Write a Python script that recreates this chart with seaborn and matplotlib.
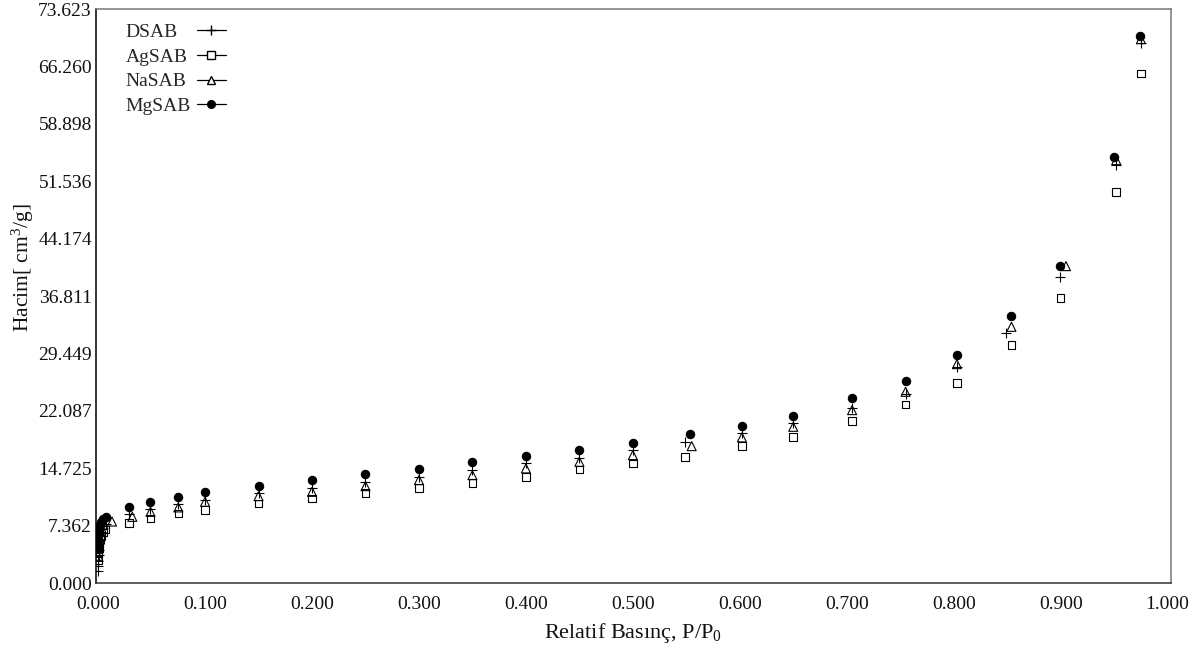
import numpy as np
import pandas as pd
import seaborn as sns
import matplotlib.pyplot as plt
from matplotlib.lines import Line2D

# Relative pressure P/P0 and adsorbed volume (cm3/g)
ds_p = [0.00005, 0.0001, 0.0002, 0.0004, 0.0007, 0.001, 0.0015, 0.002, 0.003, 0.004, 0.005, 0.007,
        0.029, 0.049, 0.075, 0.100, 0.150, 0.200, 0.250, 0.300, 0.350, 0.400, 0.450, 0.500,
        0.549, 0.602, 0.650, 0.705, 0.755, 0.803, 0.849, 0.899, 0.952, 0.975]
ds_v = [1.6, 2.2, 2.9, 3.6, 4.3, 5.0, 5.6, 6.1, 6.6, 7.0, 7.3, 7.6,
        8.85, 9.45, 10.09, 10.65, 11.50, 12.15, 12.99, 13.63, 14.49, 15.35, 15.99, 17.06,
        18.12, 19.20, 20.56, 22.44, 24.24, 27.74, 32.10, 39.25, 53.61, 69.26]

ag_p = [0.0001, 0.0003, 0.0006, 0.001, 0.002, 0.003, 0.005, 0.007,
        0.029, 0.049, 0.075, 0.100, 0.150, 0.200, 0.250, 0.300, 0.350, 0.400, 0.450, 0.500,
        0.549, 0.602, 0.650, 0.705, 0.755, 0.803, 0.854, 0.900, 0.952, 0.975]
ag_v = [3.0, 3.8, 4.5, 5.0, 5.6, 6.0, 6.5, 6.9,
        7.73, 8.30, 8.94, 9.36, 10.22, 10.86, 11.58, 12.22, 12.86, 13.63, 14.58, 15.35,
        16.20, 17.61, 18.77, 20.78, 22.92, 25.69, 30.52, 36.55, 50.19, 65.37]

na_p = [0.0001, 0.0003, 0.0006, 0.001, 0.002, 0.003, 0.005, 0.013,
        0.032, 0.049, 0.075, 0.100, 0.150, 0.200, 0.250, 0.300, 0.350, 0.400, 0.450, 0.500,
        0.555, 0.602, 0.650, 0.705, 0.755, 0.803, 0.854, 0.905, 0.952, 0.975]
na_v = [3.5, 4.4, 5.2, 5.9, 6.6, 7.1, 7.5, 7.9,
        8.50, 9.14, 9.71, 10.43, 11.16, 11.71, 12.44, 13.21, 13.85, 14.71, 15.56, 16.42,
        17.57, 18.69, 20.05, 22.19, 24.54, 28.09, 32.87, 40.66, 54.25, 69.77]

mg_p = [0.0001, 0.0003, 0.0006, 0.001, 0.002, 0.003, 0.005, 0.007,
        0.029, 0.049, 0.075, 0.100, 0.150, 0.200, 0.250, 0.300, 0.350, 0.400, 0.450, 0.500,
        0.553, 0.602, 0.650, 0.705, 0.755, 0.803, 0.854, 0.899, 0.950, 0.974]
mg_v = [4.5, 5.5, 6.3, 6.9, 7.5, 7.9, 8.2, 8.5,
        9.71, 10.43, 11.07, 11.67, 12.44, 13.21, 13.94, 14.62, 15.48, 16.29, 17.06, 17.99,
        19.07, 20.14, 21.46, 23.69, 25.95, 29.24, 34.28, 40.66, 54.68, 70.16]

samples = ["DSAB", "AgSAB", "NaSAB", "MgSAB"]
y_max = 73.6226

df = pd.concat([
    pd.DataFrame({"P": ds_p, "V": ds_v, "sample": "DSAB"}),
    pd.DataFrame({"P": ag_p, "V": ag_v, "sample": "AgSAB"}),
    pd.DataFrame({"P": na_p, "V": na_v, "sample": "NaSAB"}),
    pd.DataFrame({"P": mg_p, "V": mg_v, "sample": "MgSAB"}),
])

sns.set_style("white")
plt.rcParams["font.family"] = ["Liberation Serif", "DejaVu Serif"]
plt.rcParams["mathtext.fontset"] = "custom"
plt.rcParams["mathtext.rm"] = "Liberation Serif"
plt.rcParams["mathtext.it"] = "Liberation Serif:italic"
plt.rcParams["mathtext.default"] = "rm"

fig = plt.figure(figsize=(11.89, 6.53), dpi=100)
ax = fig.add_axes([0.0807, 0.107, 0.904, 0.879])

# marker style per sample: (marker, facecolor, size)
styles = {
    "DSAB": ("+", None, 45),
    "AgSAB": ("s", "none", 30),
    "NaSAB": ("^", "none", 42),
    "MgSAB": ("o", "black", 36),
}

for name in samples:
    m, fc, s = styles[name]
    sub = df[df["sample"] == name]
    if fc is None:
        sns.scatterplot(data=sub, x="P", y="V", marker=m, color="black", s=s,
                        linewidth=0.8, ax=ax, zorder=3)
    else:
        sns.scatterplot(data=sub, x="P", y="V", marker=m, facecolor=fc, edgecolor="black",
                        s=s, linewidth=0.8, ax=ax, zorder=3)

ax.set_xlim(-0.002, 1.003)
ax.set_ylim(0, y_max)
ax.set_xticks(np.arange(0, 1.01, 0.1))
ax.set_xticklabels([f"{t:.3f}" for t in np.arange(0, 1.01, 0.1)])
ax.set_yticks(np.linspace(0, y_max, 11))
ax.set_yticklabels([f"{t:.3f}" for t in np.linspace(0, y_max, 11)])
ax.tick_params(axis="both", length=0, labelsize=14, colors="#111111")
ax.tick_params(axis="x", pad=9)
ax.tick_params(axis="y", pad=3)

ax.set_xlabel("Relatif Basınç, P/P$_0$", fontsize=16, color="#111111", labelpad=6)
ax.set_ylabel("Hacim[ cm$^3$/g]", fontsize=15.5, color="#111111")
ax.yaxis.set_label_coords(-0.056, 0.55)

ax.spines["left"].set_color("black")
ax.spines["bottom"].set_color("#333333")
ax.spines["top"].set_color("#777777")
ax.spines["right"].set_color("#777777")
for sp in ax.spines.values():
    sp.set_linewidth(1.1)

# two-column legend: names left-aligned, line+marker samples in a column to the right
blank = Line2D([], [], linestyle="none")
handles = [blank] * 4 + [
    Line2D([], [], color="black", lw=0.9, marker="+", markersize=7),
    Line2D([], [], color="black", lw=0.9, marker="s", markersize=5.5, markerfacecolor="white"),
    Line2D([], [], color="black", lw=0.9, marker="^", markersize=6, markerfacecolor="white"),
    Line2D([], [], color="black", lw=0.9, marker="o", markersize=5.5),
]
labels = samples + [""] * 4
ax.legend(handles, labels, ncol=2, loc="upper left", bbox_to_anchor=(-0.006, 0.975),
          frameon=False, fontsize=14, handlelength=1.5, handletextpad=0.35,
          columnspacing=0.3, labelspacing=0.36, borderpad=0, borderaxespad=0)

fig.savefig("out.png", dpi=100)
